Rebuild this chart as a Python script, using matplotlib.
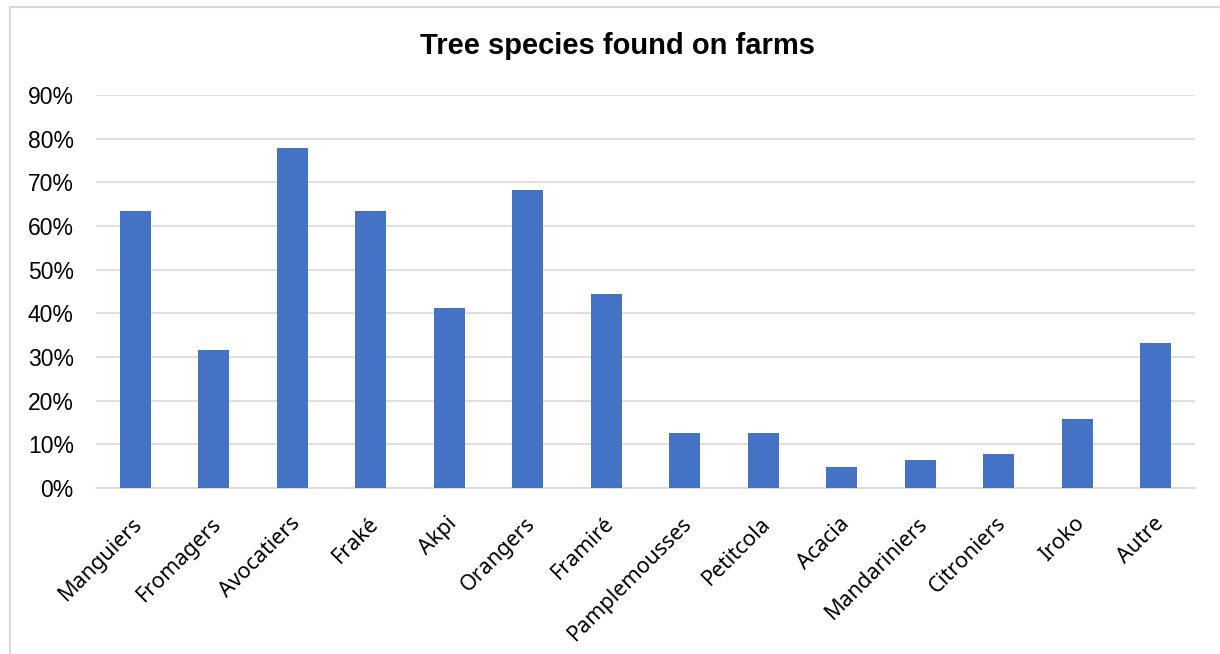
import matplotlib
matplotlib.use("Agg")
import matplotlib.pyplot as plt
import matplotlib.transforms as mtransforms
from matplotlib.lines import Line2D
import numpy as np

species = [
    "Manguiers", "Fromagers", "Avocatiers", "Fraké", "Akpi", "Orangers", "Framiré",
    "Pamplemousses", "Petitcola", "Acacia", "Mandariniers", "Citroniers", "Iroko", "Autre",
]
share_pct = [63.5, 31.7, 77.8, 63.5, 41.3, 68.3, 44.4, 12.7, 12.7, 4.8, 6.3, 7.9, 15.9, 33.3]
y_ticks = [0, 10, 20, 30, 40, 50, 60, 70, 80, 90]

W, H = 1220, 654
fig = plt.figure(figsize=(W / 100, H / 100), dpi=100)
ax = fig.add_axes([96 / W, 1 - 488 / H, (1195 - 96) / W, (488 - 95) / H])

x = np.arange(len(species))
ax.bar(x, share_pct, width=0.40, color="#4472C4", zorder=3)

ax.set_xlim(-0.5, len(species) - 0.5)
ax.set_ylim(0, 90)
ax.set_yticks(y_ticks)
ax.set_yticklabels([f"{v}%" for v in y_ticks], fontsize=16.5, family="Liberation Sans")
ax.yaxis.grid(True, color="#d9d9d9", linewidth=1.2, zorder=0)
ax.tick_params(axis="y", length=0, pad=16)
ax.tick_params(axis="x", length=0, pad=18)

ax.set_xticks(x)
labels = ax.set_xticklabels(species, rotation=45, ha="right", va="top",
                            rotation_mode="anchor", fontsize=15.5, family="Noto Sans")
shift = mtransforms.ScaledTranslation(-3 / 100, 0, fig.dpi_scale_trans)
for lab in labels:
    lab.set_transform(lab.get_transform() + shift)

for side in ["top", "right", "left"]:
    ax.spines[side].set_visible(False)
ax.spines["bottom"].set_color("#d9d9d9")
ax.spines["bottom"].set_linewidth(1.2)

fig.text(617 / W, 1 - 46 / H, "Tree species found on farms", ha="center", va="center",
         fontsize=21, fontweight="bold", family="Liberation Sans")

# chart area outline (top and left edges)
fig.add_artist(Line2D([10 / W, 1.0], [1 - 7 / H, 1 - 7 / H], color="#d9d9d9", lw=1.5))
fig.add_artist(Line2D([10 / W, 10 / W], [1 - 7 / H, 0.0], color="#d9d9d9", lw=1.5))

fig.savefig("out.png", dpi=100)
